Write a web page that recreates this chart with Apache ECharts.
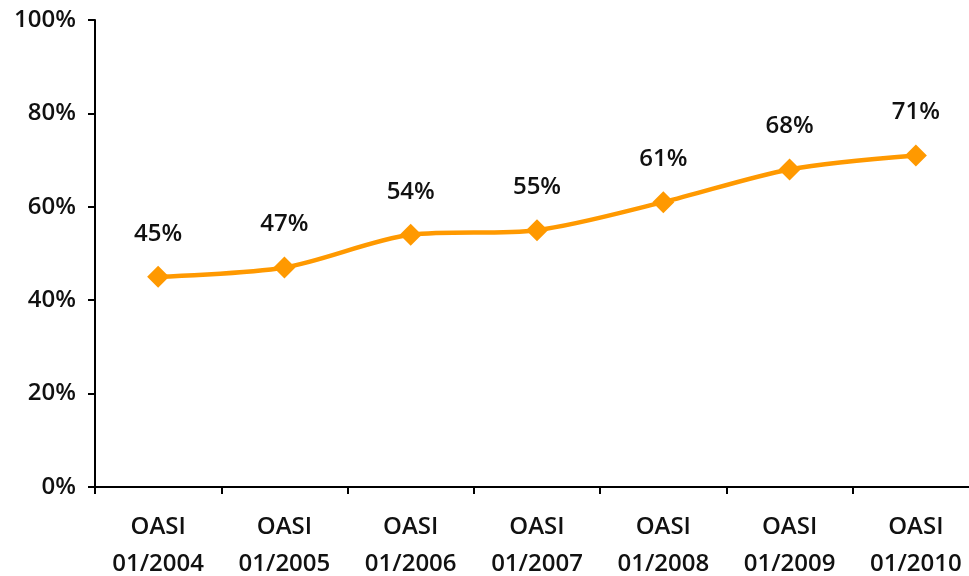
<!DOCTYPE html>
<html>
<head>
<meta charset="utf-8">
<script src="https://cdn.jsdelivr.net/npm/echarts@6/dist/echarts.min.js"></script>
<style>
  html, body { margin: 0; padding: 0; background: #fff; }
</style>
</head>
<body>
<div id="myChart" style="height: 576px;width: 969px"></div>
<script>
  const categories = ['OASI\n01/2004', 'OASI\n01/2005', 'OASI\n01/2006', 'OASI\n01/2007', 'OASI\n01/2008', 'OASI\n01/2009', 'OASI\n01/2010'];
  const shares = [45, 47, 54, 55, 61, 68, 71];

  const font = '"Open Sans", "Noto Sans", sans-serif';
  const myChart = echarts.init(document.getElementById('myChart'));
  myChart.setOption({
    animation: false,
    grid: { left: 95, width: 884, top: 20, height: 467, outerBoundsMode: 'none', containLabel: false },
    xAxis: {
      type: 'category',
      data: categories,
      boundaryGap: true,
      axisLine: { lineStyle: { color: '#000', width: 2 } },
      axisTick: { show: true, length: 7, lineStyle: { color: '#000', width: 2 } },
      axisLabel: {
        interval: 0,
        margin: 22,
        color: '#111',
        fontFamily: font,
        fontSize: 24,
        fontWeight: 600,
        lineHeight: 37
      },
      splitLine: { show: false }
    },
    yAxis: {
      type: 'value',
      min: 0,
      max: 100,
      interval: 20,
      axisLine: { show: true, lineStyle: { color: '#000', width: 2 } },
      axisTick: { show: true, length: 7, lineStyle: { color: '#000', width: 2 } },
      axisLabel: {
        formatter: '{value}%',
        margin: 19,
        color: '#111',
        fontFamily: font,
        fontSize: 24,
        fontWeight: 600
      },
      splitLine: { show: false }
    },
    series: [{
      type: 'line',
      data: shares,
      smooth: 0.3,
      symbol: 'diamond',
      symbolSize: 22,
      lineStyle: { color: '#FF9900', width: 4.5 },
      itemStyle: { color: '#FF9900' },
      label: {
        show: true,
        position: 'top',
        distance: 20,
        formatter: '{c}%',
        color: '#111',
        fontFamily: font,
        fontSize: 24,
        fontWeight: 600
      }
    }]
  });
</script>
</body>
</html>
